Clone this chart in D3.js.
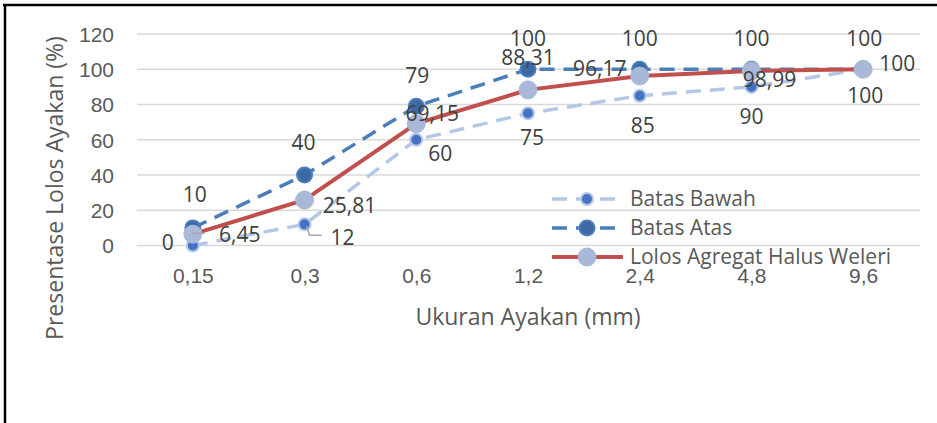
<!DOCTYPE html>
<html><head><meta charset="utf-8">
<script src="https://cdn.jsdelivr.net/npm/d3@7"></script>
<style>
html,body{margin:0;padding:0;background:#fff;}
svg{display:block;font-family:"Open Sans",sans-serif;}
</style></head>
<body>
<script>
// ---- data ----
const categories = ["0,15","0,3","0,6","1,2","2,4","4,8","9,6"];
const batasBawah = [0,12,60,75,85,90,100];
const batasAtas = [10,40,79,100,100,100,100];
const lolosWeleri = [6.45,25.81,69.15,88.31,96.17,98.99,100];
const yTicks = [0,20,40,60,80,100,120];
const labelsBawah = ["0","12","60","75","85","90","100"];
const labelsAtas = ["10","40","79","100","100","100","100"];
const labelsLolos = ["6,45","25,81","69,15","88,31","96,17","98,99","100"];
const seriesNames = ["Batas Bawah","Batas Atas","Lolos Agregat Halus Weleri"];

// ---- label placement (layout, not data) ----
const offBawah = [[-25,-3],[38,13],[24,14],[4,24],[3,30],[0,30],[2,26]];
const offAtas = [[2,-33],[-1,-32],[1,-31],[0,-31],[0,-31],[0,-31],[1,-31]];
const offLolos = [[47,1],[45,6],[16,-10],[0,-32],[-40,-7],[18,9],[34,-6]];

const W=937,H=423;
const svg=d3.select("body").append("svg").attr("width",W).attr("height",H);

// frame lines
svg.append("line").attr("x1",3).attr("x2",W).attr("y1",5).attr("y2",5).attr("stroke","#000").attr("stroke-width",2.5);
svg.append("line").attr("x1",5).attr("x2",5).attr("y1",4).attr("y2",H).attr("stroke","#000").attr("stroke-width",2.5);

const x=d3.scalePoint().domain(categories).range([137,919]).padding(0.5);
const y=d3.scaleLinear().domain([0,120]).range([245.5,34]);

const FS=21, TFS=23;
// gridlines
svg.append("g").selectAll("line").data(yTicks).join("line")
  .attr("x1",137).attr("x2",920).attr("y1",d=>y(d)).attr("y2",d=>y(d))
  .attr("stroke","#d9d9d9").attr("stroke-width",1.5);

// y axis
const yAxis=d3.axisLeft(y).tickValues(yTicks).tickSize(0).tickPadding(0);
const gy=svg.append("g").attr("transform","translate(114,0)").call(yAxis);
gy.select(".domain").remove();
gy.selectAll("text").attr("font-size",FS).attr("fill","#595959").attr("font-family",null).attr("dy","0.35em");

// x axis
const xAxis=d3.axisBottom(x).tickSize(0).tickPadding(0);
const gx=svg.append("g").attr("transform","translate(0,268)").call(xAxis);
gx.select(".domain").remove();
gx.selectAll("text").attr("font-size",FS).attr("fill","#595959").attr("font-family",null).attr("dy","0.71em");

// axis titles
svg.append("text").attr("x",528).attr("y",317).attr("dy","0.35em").attr("text-anchor","middle")
  .attr("font-size",TFS).attr("fill","#595959").text("Ukuran Ayakan (mm)");
svg.append("text").attr("transform","translate(55,188) rotate(-90)").attr("dy","0.35em").attr("text-anchor","middle")
  .attr("font-size",TFS).attr("fill","#595959").text("Presentase Lolos Ayakan (%)");

const line=d3.line().x((d,i)=>x(categories[i])).y(d=>y(d));

const styles=[
 {vals:batasBawah,stroke:"#b4c7e7",sw:3.5,dash:"15,9",mfill:"#4472c4",mstroke:"#b4c7e7",r:6,msw:2},
 {vals:batasAtas,stroke:"#4a7ebb",sw:3.5,dash:"15,9",mfill:"#3c68a6",mstroke:"#4a7ebb",r:7.5,msw:2},
 {vals:lolosWeleri,stroke:"#c0504d",sw:4,dash:null,mfill:"#a9b8d8",mstroke:"#a9b8d8",r:9,msw:1}
];

styles.forEach(s=>{
  svg.append("path").datum(s.vals).attr("d",line).attr("fill","none")
    .attr("stroke",s.stroke).attr("stroke-width",s.sw).attr("stroke-dasharray",s.dash);
  svg.append("g").selectAll("circle").data(s.vals).join("circle")
    .attr("cx",(d,i)=>x(categories[i])).attr("cy",d=>y(d)).attr("r",s.r)
    .attr("fill",s.mfill).attr("stroke",s.mstroke).attr("stroke-width",s.msw);
});

// leader lines
const leader=(pts)=>svg.append("path").attr("d",d3.line()(pts)).attr("fill","none").attr("stroke","#a6a6a6").attr("stroke-width",1.5);
{
  const px=x(categories[1]),py=y(batasBawah[1]);
  leader([[px+2,py+2],[px+5,py+11],[px+17,py+11]]);
  const qx=x(categories[0]),qy=y(lolosWeleri[0]);
  leader([[qx,qy-1],[qx+12,qy-1]]);
}

// data labels
function labels(vals,txt,off){
  svg.append("g").selectAll("text").data(vals).join("text")
    .attr("x",(d,i)=>x(categories[i])+off[i][0]).attr("y",(d,i)=>y(d)+off[i][1])
    .attr("dy","0.35em").attr("text-anchor","middle").attr("font-size",FS).attr("fill","#404040")
    .text((d,i)=>txt[i]);
}
labels(batasBawah,labelsBawah,offBawah);
labels(batasAtas,labelsAtas,offAtas);
labels(lolosWeleri,labelsLolos,offLolos);

// legend
const legY=[199,228,257];
styles.forEach((s,i)=>{
  const g=svg.append("g").attr("transform",`translate(0,${legY[i]})`);
  g.append("line").attr("x1",552).attr("x2",623).attr("y1",0).attr("y2",0)
    .attr("stroke",s.stroke).attr("stroke-width",s.sw).attr("stroke-dasharray",s.dash);
  g.append("circle").attr("cx",587).attr("cy",0).attr("r",s.r).attr("fill",s.mfill).attr("stroke",s.mstroke).attr("stroke-width",s.msw);
  g.append("text").attr("x",630).attr("y",0).attr("dy","0.35em").attr("font-size",FS).attr("fill","#595959").text(seriesNames[i]);
});
</script>
</body></html>
